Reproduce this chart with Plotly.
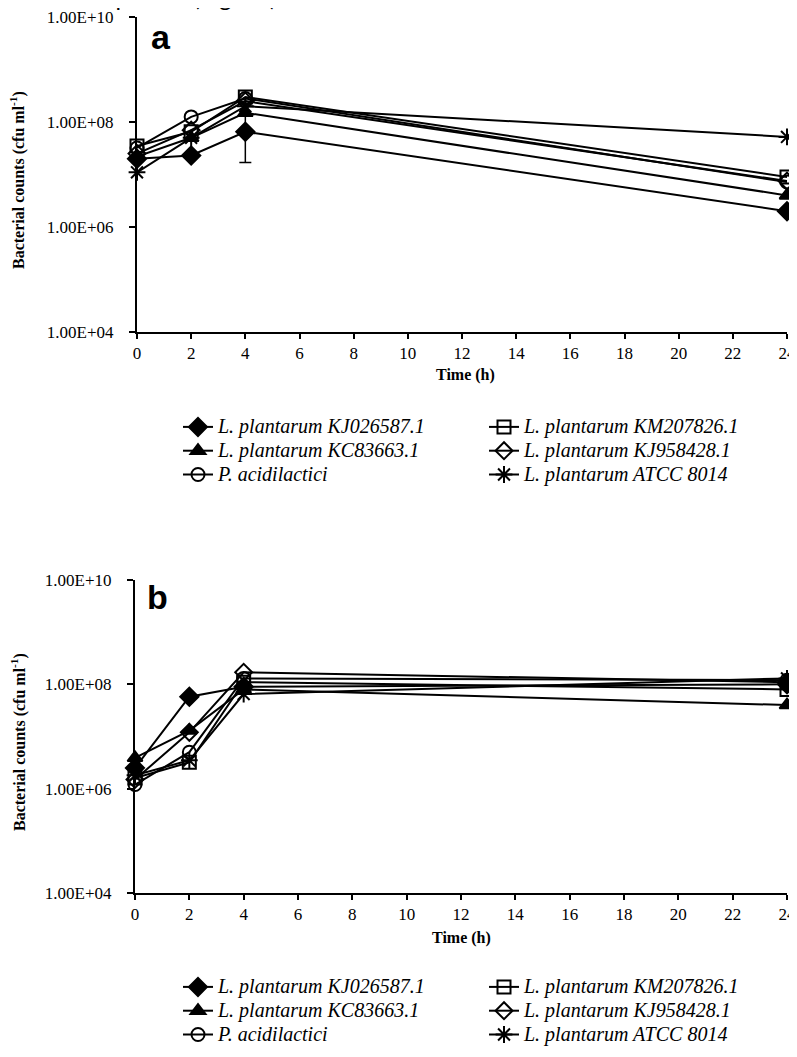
import plotly.graph_objects as go

# ---------------- data ----------------
time_h = [0, 2, 4, 24]
x_ticks = list(range(0, 25, 2))
y_tickvals = [1e4, 1e6, 1e8, 1e10]
y_ticktext = ["1.00E+04", "1.00E+06", "1.00E+08", "1.00E+10"]

strains = [
    "L. plantarum KJ026587.1",
    "L. plantarum KM207826.1",
    "L. plantarum KC83663.1",
    "L. plantarum KJ958428.1",
    "P. acidilactici",
    "L. plantarum ATCC 8014",
]

# Panel a (cfu/ml)
a_KJ026587 = [2.0e7, 2.3e7, 6.5e7, 2.0e6]
a_KM207826 = [3.5e7, 6.5e7, 3.0e8, 9.0e6]
a_KC83663 = [2.2e7, 5.0e7, 1.5e8, 4.0e6]
a_KJ958428 = [2.5e7, 7.0e7, 2.5e8, 7.5e6]
a_Pacid = [3.2e7, 1.25e8, 2.8e8, 7.2e6]
a_ATCC = [1.1e7, 5.0e7, 2.0e8, 5.2e7]
a_KJ026587_err_minus = [0, 0, 4.8e7, 0]
a_KJ026587_err_plus = [0, 0, 1.8e8, 0]

# Panel b (cfu/ml)
b_KJ026587 = [2.5e6, 5.8e7, 9.0e7, 1.0e8]
b_KM207826 = [1.6e6, 3.2e6, 1.1e8, 8.0e7]
b_KC83663 = [3.9e6, 1.3e7, 8.0e7, 4.0e7]
b_KJ958428 = [1.5e6, 1.2e7, 1.7e8, 1.1e8]
b_Pacid = [1.2e6, 5.0e6, 1.3e8, 1.2e8]
b_ATCC = [1.8e6, 3.5e6, 6.5e7, 1.3e8]

# ---------------- styles ----------------
symbols = ["diamond", "square-open", "triangle-up", "diamond-open", "circle-open", "asterisk-open"]
sizes = [14, 13, 13, 13, 13, 14]

# page body margin offset (8px) compensation
OFF = 8
W, H = 797 - OFF, 1057 - OFF


def px(X):
    return (X - OFF) / W


def py(Y):
    return 1 - (Y - OFF) / H


fig = go.Figure()

panel_a = [a_KJ026587, a_KM207826, a_KC83663, a_KJ958428, a_Pacid, a_ATCC]
panel_b = [b_KJ026587, b_KM207826, b_KC83663, b_KJ958428, b_Pacid, b_ATCC]


def label(name):
    return "<span style='font-size:20px'>" + name + "</span>"


for i, (name, ys) in enumerate(zip(strains, panel_a)):
    kw = {}
    if i == 0:
        kw["error_y"] = dict(type="data", symmetric=False, array=a_KJ026587_err_plus,
                             arrayminus=a_KJ026587_err_minus, color="black", thickness=1.5, width=6)
    fig.add_trace(go.Scatter(
        x=time_h, y=ys, name=label(name),
        mode="lines+markers", xaxis="x", yaxis="y", legend="legend",
        line=dict(color="black", width=2),
        marker=dict(symbol=symbols[i], size=sizes[i], color="black",
                    line=dict(color="black", width=2)),
        cliponaxis=False, **kw))

for i, (name, ys) in enumerate(zip(strains, panel_b)):
    fig.add_trace(go.Scatter(
        x=time_h, y=ys, name=label(name),
        mode="lines+markers", xaxis="x2", yaxis="y2", legend="legend2",
        line=dict(color="black", width=2),
        marker=dict(symbol=symbols[i], size=sizes[i], color="black",
                    line=dict(color="black", width=2)),
        cliponaxis=False))

tick_font = dict(family="Liberation Serif", size=17, color="black")


def xax(domain, anchor):
    return dict(domain=domain, anchor=anchor, range=[0, 24], tickvals=x_ticks,
                ticks="outside", ticklen=5, tickwidth=2, tickcolor="black",
                showline=True, linecolor="black", linewidth=2, showgrid=False,
                zeroline=False, tickfont=tick_font, automargin=False,
                ticklabeloverflow="allow")


def yax(domain, anchor):
    return dict(domain=domain, anchor=anchor, type="log", range=[4, 10],
                tickvals=y_tickvals, ticktext=y_ticktext,
                ticks="outside", ticklen=6, tickwidth=2, tickcolor="black",
                ticklabelstandoff=12, ticklabeloverflow="allow",
                showline=True, linecolor="black", linewidth=2, showgrid=False,
                zeroline=False, tickfont=tick_font, automargin=False)


legend_common = dict(orientation="h", xanchor="left", yanchor="top",
                     entrywidth=261, entrywidthmode="pixels",
                     font=dict(family="Liberation Serif", size=16, color="black", style="italic"),
                     bgcolor="rgba(0,0,0,0)", traceorder="normal")

fig.update_layout(
    width=W, height=H,
    margin=dict(l=0, r=0, t=0, b=0, autoexpand=False),
    paper_bgcolor="white", plot_bgcolor="white",
    showlegend=True,
    xaxis=xax([px(137), px(787)], "y"),
    yaxis=yax([py(332), py(17)], "x"),
    xaxis2=xax([px(135), px(787)], "y2"),
    yaxis2=yax([py(893), py(580)], "x2"),
    legend=dict(x=px(178), y=py(410), **legend_common),
    legend2=dict(x=px(178), y=py(970), **legend_common),
)

title_font = dict(family="Liberation Serif", size=16, color="black", weight="bold")
annotations = [
    dict(text="24 h of exposure (Fig. <span style='color:#1a3cff'>2</span>b).",
         x=0, y=1, xref="paper", yref="paper", xanchor="left", yanchor="bottom",
         yshift=-5, showarrow=False, font=dict(family="Lato", size=24, color="black")),
    dict(text="a", x=px(149), y=py(37), xref="paper", yref="paper", xanchor="left",
         yanchor="middle", showarrow=False,
         font=dict(family="Liberation Sans", size=34, color="black", weight="bold")),
    dict(text="b", x=px(145), y=py(597), xref="paper", yref="paper", xanchor="left",
         yanchor="middle", showarrow=False,
         font=dict(family="Liberation Sans", size=34, color="black", weight="bold")),
    dict(text="Time (h)", x=px(465), y=py(375), xref="paper", yref="paper",
         xanchor="center", yanchor="middle", showarrow=False, font=title_font),
    dict(text="Time (h)", x=px(462), y=py(938), xref="paper", yref="paper",
         xanchor="center", yanchor="middle", showarrow=False, font=title_font),
    dict(text="Bacterial counts (cfu ml<sup>-1</sup>)", x=px(18), y=py(180),
         xref="paper", yref="paper", xanchor="center", yanchor="middle",
         textangle=-90, showarrow=False, font=title_font),
    dict(text="Bacterial counts (cfu ml<sup>-1</sup>)", x=px(18), y=py(742),
         xref="paper", yref="paper", xanchor="center", yanchor="middle",
         textangle=-90, showarrow=False, font=title_font),
]
fig.update_layout(annotations=annotations)

fig.write_html("out.html")
